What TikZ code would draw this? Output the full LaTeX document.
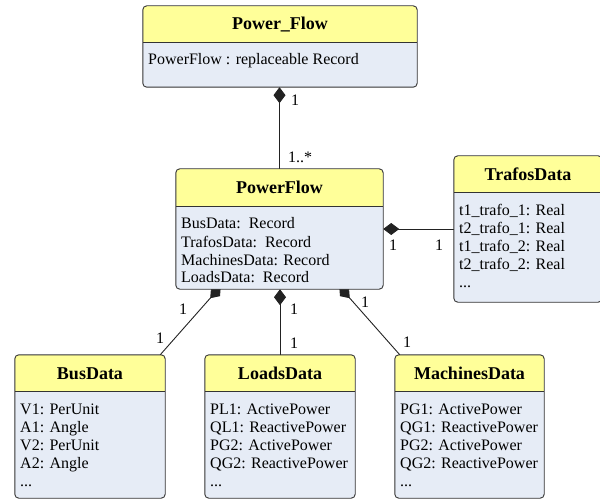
\documentclass[tikz,border=0pt]{standalone}
\usepackage{fontspec}
\setmainfont{Liberation Serif}
\usetikzlibrary{arrows.meta,fit,backgrounds}
\definecolor{hdrc}{HTML}{FFFF99}
\definecolor{bodyc}{HTML}{E6ECF6}
\definecolor{bordc}{HTML}{333333}
\definecolor{linec}{HTML}{222222}
\tikzset{
  boxframe/.style={inner sep=0pt, rounded corners=4pt, fill=bodyc},
  boxline/.style={draw=bordc, line width=0.9pt},
  titletext/.style={font=\fontsize{18}{20}\selectfont\bfseries, inner sep=0pt, anchor=base},
  bodytext/.style={font=\fontsize{16}{18}\selectfont, inner sep=0pt, anchor=base west},
  mult/.style={font=\fontsize{16}{18}\selectfont, inner sep=0pt},
  comp/.style={draw=linec, line width=0.9pt, -{Diamond[length=16pt,width=12pt]}},
}
\newcommand{\umlclass}[8]{%
  \coordinate (#1-nw) at (#2,#3);
  \coordinate (#1-se) at (#4,#5);
  \node[boxframe, fit=(#1-nw)(#1-se)] (#1) {};
  \begin{scope}
    \clip[rounded corners=4pt] (#1.north west) rectangle (#1.south east);
    \fill[hdrc] (#1.north west) rectangle (#4,#6);
  \end{scope}
  \draw[boxline] (#2,#6) -- (#4,#6);
  \draw[boxline, rounded corners=4pt] (#1.north west) rectangle (#1.south east);
  \node[titletext] (#1-title) at ({(#2+#4)/2},{(#3+#6)/2+6}) {#7};
  \node[bodytext] (#1-attr) at (#2+5,#6+23) {\begin{tabular}[t]{@{}l@{}}#8\end{tabular}};
}
\begin{document}
\begin{tikzpicture}[x=1pt,y=-1pt]
\useasboundingbox (0,0) rectangle (600,500);
\umlclass{pfl}{143}{6}{417}{87}{42}{Power\_Flow}{PowerFlow : replaceable Record}
\umlclass{pf}{176}{169}{383}{289}{206}{PowerFlow}{BusData:\ \ Record\\ TrafosData:\ \ Record\\ MachinesData: Record\\ LoadsData:\ \ Record}
\umlclass{trafo}{454}{156}{602}{302}{192}{TrafosData}{t1\_trafo\_1: Real\\ t2\_trafo\_1: Real\\ t1\_trafo\_2: Real\\ t2\_trafo\_2: Real\\ ...}
\umlclass{bus}{15}{355}{165}{498}{391}{BusData}{V1: PerUnit\\ A1: Angle\\ V2: PerUnit\\ A2: Angle\\ ...}
\umlclass{loads}{205}{355}{355}{498}{391}{LoadsData}{PL1: ActivePower\\ QL1: ReactivePower\\ PG2: ActivePower\\ QG2: ReactivePower\\ ...}
\umlclass{mach}{395}{355}{544}{498}{391}{MachinesData}{PG1: ActivePower\\ QG1: ReactivePower\\ PG2: ActivePower\\ QG2: ReactivePower\\ ...}
\begin{scope}[on background layer]
  \draw[comp] (pf.north) -- (pf.north |- pfl.south);
  \draw[comp] (trafo.west |- pf.east) -- (pf.east);
  \draw[comp] ([xshift=-5pt]bus.north east) -- ([xshift=45pt,yshift=3pt]pf.south west);
  \draw[comp] (loads.north) -- (loads.north |- pf.south);
  \draw[comp] ([xshift=5pt]mach.north west) -- ([xshift=-44pt,yshift=3pt]pf.south east);
\end{scope}
\node[mult] (m1) at (295,100) {1};
\node[mult, anchor=west] (m2) at (288,157) {1..*};
\node[mult] (m3) at (393,245) {1};
\node[mult] (m4) at (439,245) {1};
\node[mult] (m5) at (183,309) {1};
\node[mult] (m6) at (160,338) {1};
\node[mult] (m7) at (294,309) {1};
\node[mult] (m8) at (294,343) {1};
\node[mult] (m9) at (365,302) {1};
\node[mult] (m10) at (407,342) {1};
\end{tikzpicture}
\end{document}
